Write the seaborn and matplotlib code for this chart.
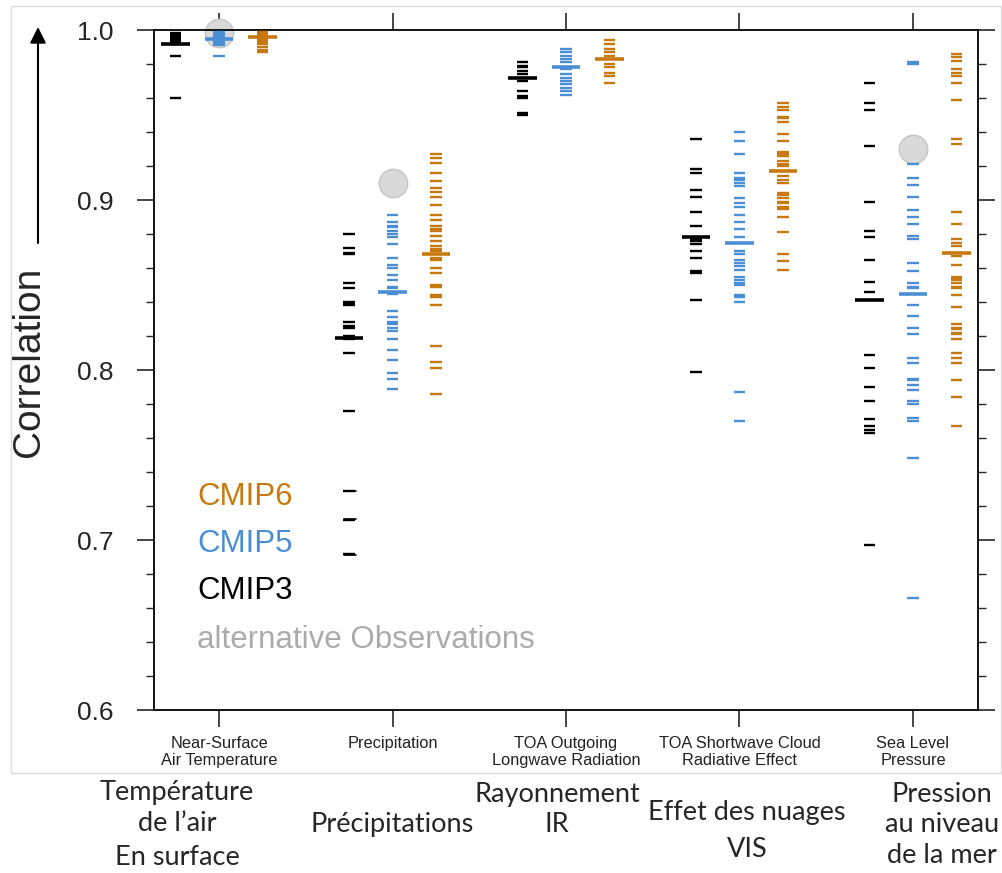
import numpy as np
import pandas as pd
import matplotlib
matplotlib.use("Agg")
import matplotlib.pyplot as plt
from matplotlib.patches import Rectangle
from matplotlib.lines import Line2D
from matplotlib.ticker import MultipleLocator
import seaborn as sns

# ---------------- data ----------------
VARIABLES = ["Near-Surface\nAir Temperature", "Precipitation",
             "TOA Outgoing\nLongwave Radiation", "TOA Shortwave Cloud\nRadiative Effect",
             "Sea Level\nPressure"]
FRENCH_LABELS = ["Température\nde l’air\nEn surface", "Précipitations",
                 "Rayonnement\nIR", "Effet des nuages\nVIS", "Pression\nau niveau\nde la mer"]
GENERATIONS = ["CMIP3", "CMIP5", "CMIP6"]

CMIP3_TAS = [0.998, 0.997, 0.996, 0.995, 0.994, 0.993, 0.992, 0.985, 0.960]
CMIP3_PR = [0.880, 0.872, 0.869, 0.868, 0.851, 0.848, 0.840, 0.839, 0.838, 0.828, 0.826,
            0.825, 0.820, 0.818, 0.810, 0.776, 0.729, 0.712, 0.692]
CMIP3_RLUT = [0.981, 0.979, 0.978, 0.976, 0.974, 0.970, 0.964, 0.961, 0.960, 0.951, 0.950]
CMIP3_SWCRE = [0.936, 0.918, 0.916, 0.906, 0.902, 0.893, 0.885, 0.877, 0.876, 0.874, 0.870,
               0.866, 0.858, 0.857, 0.841, 0.799]
CMIP3_PSL = [0.969, 0.957, 0.953, 0.932, 0.899, 0.882, 0.878, 0.865, 0.852, 0.846, 0.809,
             0.801, 0.790, 0.782, 0.771, 0.767, 0.765, 0.763, 0.697]

CMIP5_TAS = [0.999, 0.998, 0.997, 0.996, 0.995, 0.994, 0.993, 0.992, 0.991, 0.985]
CMIP5_PR = [0.891, 0.887, 0.885, 0.884, 0.882, 0.880, 0.878, 0.874, 0.866, 0.862, 0.860,
            0.856, 0.853, 0.849, 0.848, 0.845, 0.835, 0.831, 0.828, 0.827, 0.825, 0.823,
            0.818, 0.812, 0.806, 0.798, 0.795, 0.789]
CMIP5_RLUT = [0.989, 0.987, 0.985, 0.983, 0.981, 0.977, 0.974, 0.972, 0.970, 0.968, 0.966,
              0.964, 0.962]
CMIP5_SWCRE = [0.940, 0.935, 0.927, 0.916, 0.913, 0.912, 0.910, 0.908, 0.901, 0.898, 0.896,
               0.891, 0.887, 0.883, 0.878, 0.870, 0.868, 0.865, 0.863, 0.861, 0.859, 0.855,
               0.853, 0.851, 0.850, 0.844, 0.843, 0.840, 0.787, 0.770]
CMIP5_PSL = [0.981, 0.980, 0.921, 0.913, 0.909, 0.902, 0.894, 0.890, 0.886, 0.879, 0.877,
             0.863, 0.858, 0.851, 0.849, 0.848, 0.838, 0.832, 0.825, 0.821, 0.807, 0.804,
             0.795, 0.794, 0.791, 0.788, 0.782, 0.780, 0.772, 0.770, 0.748, 0.666]

CMIP6_TAS = [0.999, 0.998, 0.997, 0.995, 0.994, 0.993, 0.992, 0.990, 0.988, 0.987]
CMIP6_PR = [0.927, 0.925, 0.922, 0.916, 0.911, 0.907, 0.905, 0.902, 0.897, 0.891, 0.888,
            0.885, 0.883, 0.882, 0.879, 0.876, 0.873, 0.871, 0.870, 0.866, 0.865, 0.860,
            0.857, 0.850, 0.849, 0.844, 0.843, 0.838, 0.814, 0.805, 0.801, 0.786]
CMIP6_RLUT = [0.994, 0.992, 0.989, 0.987, 0.985, 0.980, 0.978, 0.975, 0.973, 0.969]
CMIP6_SWCRE = [0.957, 0.955, 0.953, 0.949, 0.948, 0.946, 0.939, 0.935, 0.928, 0.927, 0.926,
               0.923, 0.921, 0.920, 0.914, 0.912, 0.910, 0.904, 0.903, 0.901, 0.899, 0.898,
               0.896, 0.895, 0.890, 0.881, 0.868, 0.864, 0.859]
CMIP6_PSL = [0.986, 0.984, 0.982, 0.977, 0.975, 0.973, 0.969, 0.959, 0.936, 0.933, 0.893,
             0.886, 0.877, 0.875, 0.873, 0.867, 0.862, 0.855, 0.854, 0.853, 0.851, 0.849,
             0.848, 0.844, 0.837, 0.827, 0.825, 0.824, 0.822, 0.821, 0.818, 0.810, 0.807,
             0.804, 0.794, 0.784, 0.767]

CMIP3_MEAN = [0.992, 0.819, 0.972, 0.878, 0.841]
CMIP5_MEAN = [0.995, 0.846, 0.978, 0.875, 0.845]
CMIP6_MEAN = [0.996, 0.868, 0.983, 0.917, 0.869]

ALT_OBS_VARIABLES = ["Near-Surface\nAir Temperature", "Precipitation", "Sea Level\nPressure"]
ALT_OBS_VALUES = [0.998, 0.910, 0.930]

Y_TICKS = [0.6, 0.7, 0.8, 0.9, 1.0]
LEGEND_LABELS = ["CMIP6", "CMIP5", "CMIP3", "alternative Observations"]

# ---------------- style ----------------
COLORS = {"CMIP3": "#000000", "CMIP5": "#4A8FD6", "CMIP6": "#C8790E"}
OBS_COLOR = "#D9D9D9"
OFFSETS = {"CMIP3": -0.25, "CMIP5": 0.0, "CMIP6": 0.25}

sns.set_style("ticks")
plt.rcParams["font.family"] = ["Liberation Sans", "DejaVu Sans"]

models = {
    "CMIP3": [CMIP3_TAS, CMIP3_PR, CMIP3_RLUT, CMIP3_SWCRE, CMIP3_PSL],
    "CMIP5": [CMIP5_TAS, CMIP5_PR, CMIP5_RLUT, CMIP5_SWCRE, CMIP5_PSL],
    "CMIP6": [CMIP6_TAS, CMIP6_PR, CMIP6_RLUT, CMIP6_SWCRE, CMIP6_PSL],
}
means = {"CMIP3": CMIP3_MEAN, "CMIP5": CMIP5_MEAN, "CMIP6": CMIP6_MEAN}

rows, mrows = [], []
for gen in GENERATIONS:
    for i, vals in enumerate(models[gen]):
        for v in vals:
            rows.append({"var": i, "generation": gen, "value": v})
        mrows.append({"var": i, "generation": gen, "value": means[gen][i]})
df = pd.DataFrame(rows)
df["x"] = df["var"] + df["generation"].map(OFFSETS)
dfm = pd.DataFrame(mrows)
dfm["x"] = dfm["var"] + dfm["generation"].map(OFFSETS)

obs = pd.DataFrame({"variable": ALT_OBS_VARIABLES, "value": ALT_OBS_VALUES})
obs["x"] = obs["variable"].map({v: i for i, v in enumerate(VARIABLES)}) + OFFSETS["CMIP5"]

W, H = 1003, 873
fig = plt.figure(figsize=(W / 100, H / 100), dpi=100)
fig.patch.set_facecolor("white")
ax = fig.add_axes([154 / W, 1 - 710 / H, (978 - 154) / W, (710 - 30) / H])

sns.scatterplot(data=obs, x="x", y="value", color=OBS_COLOR, edgecolor="#C6C6C6",
                s=420, linewidth=1.0, marker="o", legend=False, ax=ax, zorder=2,
                clip_on=False)
sns.scatterplot(data=df, x="x", y="value", hue="generation", palette=COLORS,
                marker="_", s=70, linewidth=1.7, legend=False, ax=ax, zorder=3,
                clip_on=False)
sns.scatterplot(data=dfm, x="x", y="value", hue="generation", palette=COLORS,
                marker="_", s=420, linewidth=2.6, legend=False, ax=ax, zorder=4,
                clip_on=False)

ax.set_xlim(-0.375, 4.375)
ax.set_ylim(0.6, 1.0)
ax.set_xticks(range(len(VARIABLES)))
ax.set_xticklabels(VARIABLES, fontsize=11.8, linespacing=1.1, color="#222222")
ax.set_yticks(Y_TICKS)
ax.set_yticklabels([f"{t:.1f}" for t in Y_TICKS])
ax.yaxis.set_minor_locator(MultipleLocator(0.02))
ax.set_xlabel("")
ax.set_ylabel("")
ax.tick_params(axis="x", which="major", direction="out", length=12, width=1.2,
               top=True, bottom=True, labeltop=False, pad=7)
ax.tick_params(axis="x", which="minor", bottom=False, top=False)
ax.tick_params(axis="y", which="major", direction="out", length=12, width=1.2,
               left=True, right=True, labelright=False, labelsize=19, pad=17)
ax.tick_params(axis="y", which="minor", direction="out", length=6, width=1.0,
               left=True, right=True)
for sp in ax.spines.values():
    sp.set_visible(True)
    sp.set_linewidth(1.3)
    sp.set_color("black")

# legend as coloured text
legend_colors = [COLORS["CMIP6"], COLORS["CMIP5"], COLORS["CMIP3"], "#ABABAB"]
legend_y = [497, 544, 591, 640]
for lab, col, yy in zip(LEGEND_LABELS, legend_colors, legend_y):
    fig.text(197 / W, 1 - yy / H, lab, color=col, fontsize=22.5, ha="left", va="center")
for yy in [491, 519, 555]:
    fig.add_artist(Line2D([344 / W, 356 / W], [1 - yy / H, 1 - yy / H],
                          transform=fig.transFigure, color="black", lw=1.2))

# y label and arrow
fig.text(29 / W, 1 - 362 / H, "Correlation", rotation=90, fontsize=28,
         ha="center", va="center")
ax.annotate("", xy=(38 / W, 1 - 27 / H), xytext=(38 / W, 1 - 243 / H),
            xycoords="figure fraction", textcoords="figure fraction",
            arrowprops=dict(arrowstyle="-|>", color="black", lw=1.5,
                            mutation_scale=24, shrinkA=0, shrinkB=0),
            annotation_clip=False)

# light frame around the original chart
fig.add_artist(Rectangle((11 / W, 1 - 773 / H), (1001 - 11) / W, (773 - 6) / H,
                         transform=fig.transFigure, fill=False,
                         edgecolor="#DDDDDD", lw=1.0))

# French labels below (baselines)
FR_X = [177, 392, 557, 747, 942]
FR_BASELINES = [[800, 831, 865], [832], [802, 832], [820, 857], [802, 832, 863]]
for lab, xx, ys in zip(FRENCH_LABELS, FR_X, FR_BASELINES):
    for line, yb in zip(lab.split("\n"), ys):
        fig.text(xx / W, 1 - yb / H, line, fontsize=19.5,
                 family=["Lato", "DejaVu Sans"], ha="center", va="baseline")

fig.savefig("out.png", dpi=100)
